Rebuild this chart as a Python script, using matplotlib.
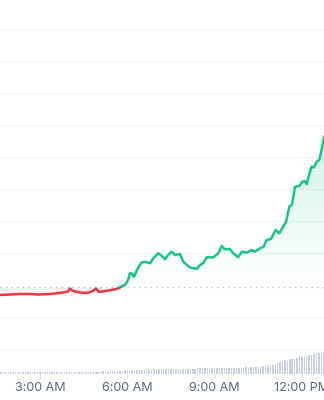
import numpy as np
import matplotlib
matplotlib.use("Agg")
import matplotlib.pyplot as plt
from matplotlib.patches import Rectangle, Polygon

# ---------------- data ----------------
# time in hours since midnight, price in arbitrary units
times = [1.625, 1.969, 2.312, 2.656, 2.931, 3.343, 3.687, 3.962, 4.030, 4.134,
         4.374, 4.615, 4.821, 4.924, 5.027, 5.233, 5.474, 5.680, 5.749, 5.818,
         5.921, 6.024, 6.093, 6.161, 6.230, 6.367, 6.494, 6.642, 6.780, 6.893,
         7.065, 7.192, 7.295, 7.398, 7.525, 7.639, 7.811, 7.924, 8.051, 8.154,
         8.384, 8.498, 8.611, 8.728, 8.955, 9.127, 9.243, 9.357, 9.529, 9.642,
         9.814, 9.931, 10.103, 10.275, 10.388, 10.560, 10.673, 10.790, 10.938, 11.092,
         11.223, 11.340, 11.453, 11.505, 11.567, 11.659, 11.763, 11.910, 12.013, 12.089,
         12.165, 12.244, 12.336, 12.416, 12.508, 12.597, 12.673, 12.759]
prices = [96.88, 97.03, 97.19, 97.19, 97.03, 97.19, 97.50, 97.97, 98.91, 98.13,
          97.66, 97.50, 98.13, 98.91, 97.81, 98.13, 98.44, 98.91, 99.22, 99.69,
          100.00, 101.56, 103.75, 103.43, 102.59, 105.31, 107.09, 107.18, 106.78, 108.34,
          109.90, 109.05, 108.02, 109.37, 110.40, 109.37, 109.68, 107.27, 106.24, 105.53,
          105.00, 106.24, 106.87, 108.65, 108.65, 109.90, 112.18, 111.15, 111.24, 109.90,
          108.65, 110.40, 110.08, 110.93, 110.40, 111.46, 111.86, 114.05, 114.36, 117.17,
          116.14, 118.01, 119.67, 121.85, 124.45, 125.13, 130.69, 130.91, 132.25, 132.47,
          131.53, 134.34, 137.00, 136.69, 138.50, 139.03, 142.15, 146.21]
open_price = 99.3

vol_start = 1.6667  # first volume bar time (hours), 5-minute bars
volumes = [2, 2, 2.2, 2, 2, 2.3, 2, 2, 2.1, 2,
           2, 2.2, 2, 2, 2.3, 2.1, 2, 2, 2.2, 2,
           2, 2.1, 2, 2.3, 2, 2, 2.2, 2, 2.1, 2,
           2.2, 2, 2, 2.1, 2.3, 2, 2.2, 2, 2.3, 2.1,
           2.5, 2.4, 2.6, 2.5, 2.4, 2.6, 2.7, 2.5, 2.8, 3.5,
           3.2, 3.6, 3.8, 3.5, 4.0, 3.8, 4.2, 4.0, 4.1, 4.5,
           4.6, 4.8, 4.5, 5.0, 4.8, 5.1, 4.9, 5.0, 5.2, 4.9,
           5.1, 5.0, 5.3, 5.0, 5.2, 5.1, 5.4, 5.2, 5.3, 5.5,
           5.2, 5.6, 5.8, 5.6, 6.0, 5.8, 6.1, 5.9, 6.0, 6.2,
           6.0, 6.1, 6.3, 6.0, 6.2, 6.4, 6.1, 6.3, 6.5, 6.2,
           6.4, 6.6, 6.5, 6.8, 6.7, 7.0, 7.2, 7.5, 7.8, 8.0,
           8.5, 9.0, 9.5, 10.0, 11.0, 12.5, 13.5, 14.0, 14.5, 15.0,
           15.5, 16.0, 16.5, 17.0, 17.5, 18.0, 18.5, 19.0, 19.5, 20.0,
           20.5, 21.0, 21.5, 22.0]

xtick_pos = [3, 6, 9, 12]
xtick_labels = ["3:00 AM", "6:00 AM", "9:00 AM", "12:00 PM"]
grid_levels = [80, 90, 110, 120, 130, 140, 150, 160, 170, 180]

GREEN = "#16c784"
RED = "#ea3943"

# ---------------- figure ----------------
fig = plt.figure(figsize=(3.24, 4.0), dpi=100)
ax = fig.add_axes([0, 0, 1, 1])
xmin, xmax = 1.625, 12.759
ymin, ymax = 64.1, 188.98
ax.set_xlim(xmin, xmax)
ax.set_ylim(ymin, ymax)
ax.axis("off")

for g in grid_levels:
    ax.axhline(g, color="#eff2f5", lw=0.9, zorder=0)

t = np.array(times)
p = np.array(prices)

# gradient fill above open price (green)
top = p.max()
grad = np.linspace(0.0, 1.0, 256).reshape(-1, 1)
rgba = np.zeros((256, 1, 4))
rgba[..., :3] = matplotlib.colors.to_rgb(GREEN)
rgba[..., 3] = grad * 0.2
img = ax.imshow(rgba, extent=[xmin, xmax, open_price, top], origin="lower",
                aspect="auto", zorder=1, interpolation="bilinear")
poly_pts = np.vstack([np.column_stack([t, np.maximum(p, open_price)]),
                      [[t[-1], open_price], [t[0], open_price]]])
clip_poly = Polygon(poly_pts, closed=True, transform=ax.transData)
img.set_clip_path(clip_poly)

# faint red fill below open price
ax.fill_between(t, p, open_price, where=p < open_price, interpolate=True,
                color=RED, alpha=0.06, lw=0, zorder=1)

# dotted open-price line
ax.axhline(open_price, color="#b8c0cf", lw=1.0, ls=(0, (1, 3)), zorder=2)

# line, green above open, red below
lg, = ax.plot(t, p, color=GREEN, lw=1.8, zorder=3, solid_joinstyle="round")
lg.set_clip_path(Rectangle((xmin, open_price), xmax - xmin, ymax - open_price,
                           transform=ax.transData))
lr, = ax.plot(t, p, color=RED, lw=1.8, zorder=3, solid_joinstyle="round")
lr.set_clip_path(Rectangle((xmin, ymin), xmax - xmin, open_price - ymin,
                           transform=ax.transData))

# x labels and small ticks
for xp, lab in zip(xtick_pos, xtick_labels):
    ax.text(xp, 0.03, lab, transform=ax.get_xaxis_transform(), ha="center",
            va="center", fontsize=9, color="#58667e", family=["Inter", "DejaVu Sans"])
    ax.plot([xp, xp], [0.055, 0.065], transform=ax.get_xaxis_transform(),
            color="#e0e4ea", lw=0.8)

# volume bars
vax = fig.add_axes([0, 26 / 400, 1, 60 / 400])
vax.set_xlim(xmin, xmax)
vax.set_ylim(0, 60)
vax.axis("off")
vax.patch.set_alpha(0)
vt = vol_start + np.arange(len(volumes)) / 12.0
vax.bar(vt, volumes, width=(1 / 12.0) * 0.6, color="#c9d0e1", lw=0)

fig.savefig("out.png", dpi=100)
